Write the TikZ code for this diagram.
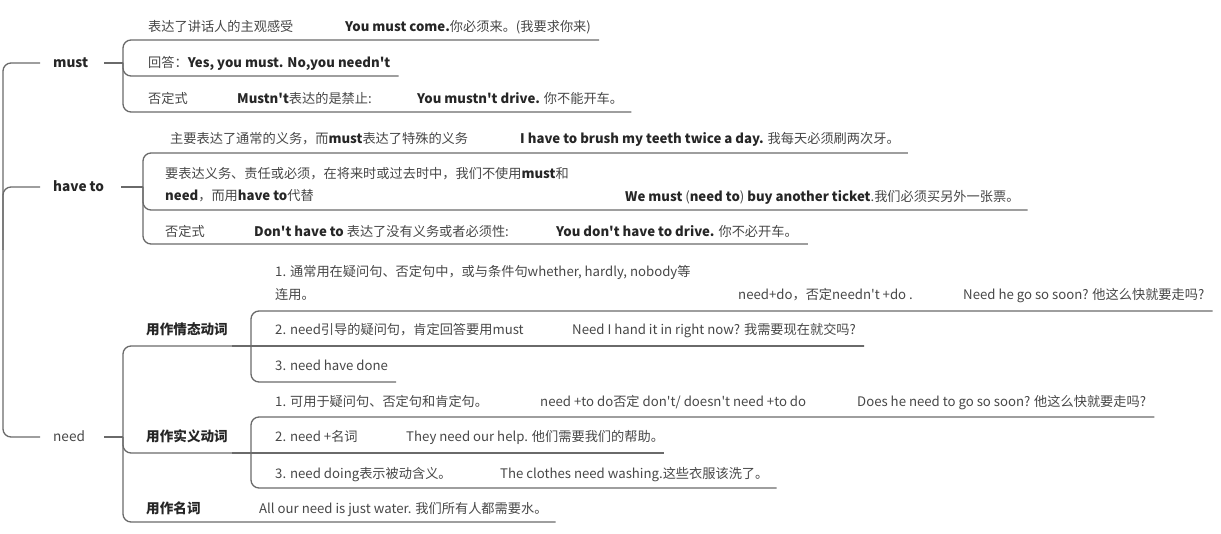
\documentclass[tikz,border=0pt]{standalone}
\usepackage{fontspec}
\setmainfont{Noto Sans CJK SC}[Ligatures=TeXOff]
\definecolor{ln}{HTML}{6A6A6A}
\definecolor{tx}{HTML}{474747}
\definecolor{tb}{HTML}{262626}
\newcommand{\B}[1]{{\bfseries\color{tb}#1}}
\tikzset{
  txt/.style={anchor=base west, inner sep=0pt, text=tx, font=\fontsize{13.2}{15}\selectfont},
  main/.style={txt, font=\fontsize{13.6}{15}\selectfont\bfseries, text=tb},
  br/.style={draw=ln, line width=1.3pt, rounded corners=8pt},
  stub/.style={draw=ln, line width=2pt}
}
\begin{document}
\begin{tikzpicture}[x=1pt,y=-1pt]
\useasboundingbox (0,0) rectangle (1221,534);
% ---------- main branches ----------
\coordinate (root) at (3,250);
\node[main] (must) at (53,68) {must};
\node[main] (have) at (53,192) {have to};
\node[txt, font=\fontsize{13.6}{15}\selectfont, text=tx] (need) at (53,442) {need};
\draw[br] (root) |- (40,63);
\draw[br] (root) |- (40,187);
\draw[br] (root) |- (40,437);
\coordinate (mp) at (123,63);
\coordinate (hp) at (143,187);
\coordinate (np) at (123,437);
\draw[stub] (104,63) -- (mp);
\draw[stub] (121,187) -- (hp);
\draw[stub] (104,437) -- (np);
% ---------- must ----------
\node[txt] (m1a) at (148,32) {表达了讲话人的主观感受};
\node[txt] (m1b) at (345,32) {\B{You must come.}你必须来。(我要求你来)};
\node[txt] (m2) at (148,68) {回答：\B{Yes, you must. No,you needn't}};
\node[txt] (m3a) at (148,104) {否定式};
\node[txt] (m3b) at (237,104) {\B{Mustn't}表达的是禁止:};
\node[txt] (m3c) at (417,104) {\B{You mustn't drive.} 你不能开车。};
\coordinate (mu1) at (123,40);
\coordinate (mu2) at (123,76);
\coordinate (mu3) at (123,112);
\draw[br] (mp) -- (mu1) -- (mu1 -| m1b.east) -- ++(6,0);
\draw[br] (mp) -- (mu2) -- (mu2 -| m2.east) -- ++(6,0);
\draw[br] (mp) -- (mu3) -- (mu3 -| m3c.east) -- ++(6,0);
% ---------- have to ----------
\node[txt] (h1a) at (170,144) {主要表达了通常的义务，而\B{must}表达了特殊的义务};
\node[txt] (h1b) at (520,144) {\B{I have to brush my teeth twice a day.} 我每天必须刷两次牙。};
\node[txt] (h2a) at (165,179) {要表达义务、责任或必须，在将来时或过去时中，我们不使用\B{must}和};
\node[txt] (h2b) at (165,201) {\B{need}，而用\B{have to}代替};
\node[txt] (h2c) at (625,202) {\B{We must} (\B{need to}) \B{buy another ticket}.我们必须买另外一张票。};
\node[txt] (h3a) at (165,237) {否定式};
\node[txt] (h3b) at (254,237) {\B{Don't have to} 表达了没有义务或者必须性:};
\node[txt] (h3c) at (556,237) {\B{You don't have to drive.} 你不必开车。};
\coordinate (hu1) at (143,153);
\coordinate (hu2) at (143,210);
\coordinate (hu3) at (143,244);
\draw[br] (hp) -- (hu1) -- (hu1 -| h1b.east) -- ++(8,0);
\draw[br] (hp) -- (hu2) -- (hu2 -| h2c.east) -- ++(4,0);
\draw[br] (hp) -- (hu3) -- (hu3 -| h3c.east) -- ++(10,0);
% ---------- need ----------
\node[main] (n1) at (146,335) {用作情态动词};
\node[main] (n2) at (146,442) {用作实义动词};
\node[main] (n3) at (146,513) {用作名词};
\node[txt] (n3b) at (259,513) {All our need is just water. 我们所有人都需要水。};
\coordinate (nu1) at (123,346);
\coordinate (nu2) at (123,453);
\coordinate (nu3) at (123,522);
\coordinate (p1) at (251,346);
\coordinate (p2) at (251,453);
\draw[br] (np) -- (nu1) -- (p1);
\draw[br] (np) -- (nu2) -- (p2);
\draw[br] (np) -- (nu3) -- (nu3 -| n3b.east) -- ++(2,0);
\draw[stub] (232,346) -- (p1);
\draw[stub] (232,453) -- (p2);
% modal verb items
\node[txt] (a1a) at (275,277) {1. 通常用在疑问句、否定句中，或与条件句whether, hardly, nobody等};
\node[txt] (a1b) at (275,300) {连用。};
\node[txt] (a1c) at (738,300) {need+do，否定needn't +do .};
\node[txt] (a1d) at (963,300) {Need he go so soon? 他这么快就要走吗?};
\node[txt] (a2a) at (275,335) {2. need引导的疑问句，肯定回答要用must};
\node[txt] (a2b) at (572,335) {Need I hand it in right now? 我需要现在就交吗?};
\node[txt] (a3) at (275,371) {3. need have done};
\coordinate (au1) at (251,311);
\coordinate (au3) at (251,382);
\draw[br] (p1) -- (au1) -- (au1 -| a1d.east) -- ++(5,0);
\draw[br] (p1) -- (p1 -| a2b.east) -- ++(5,0);
\draw[br] (p1) -- (au3) -- (au3 -| a3.east) -- ++(5,0);
% notional verb items
\node[txt] (b1a) at (275,407) {1. 可用于疑问句、否定句和肯定句。};
\node[txt] (b1b) at (540,407) {need +to do否定 don't/ doesn't need +to do};
\node[txt] (b1c) at (857,407) {Does he need to go so soon? 他这么快就要走吗?};
\node[txt] (b2a) at (275,442) {2. need +名词};
\node[txt] (b2b) at (406,442) {They need our help. 他们需要我们的帮助。};
\node[txt] (b3a) at (275,478) {3. need doing表示被动含义。};
\node[txt] (b3b) at (500,478) {The clothes need washing.这些衣服该洗了。};
\coordinate (bu1) at (251,417);
\coordinate (bu3) at (251,488);
\draw[br] (p2) -- (bu1) -- (bu1 -| b1c.east) -- ++(5,0);
\draw[br] (p2) -- (p2 -| b2b.east);
\draw[br] (p2) -- (bu3) -- (bu3 -| b3b.east) -- ++(8,0);
\end{tikzpicture}
\end{document}
